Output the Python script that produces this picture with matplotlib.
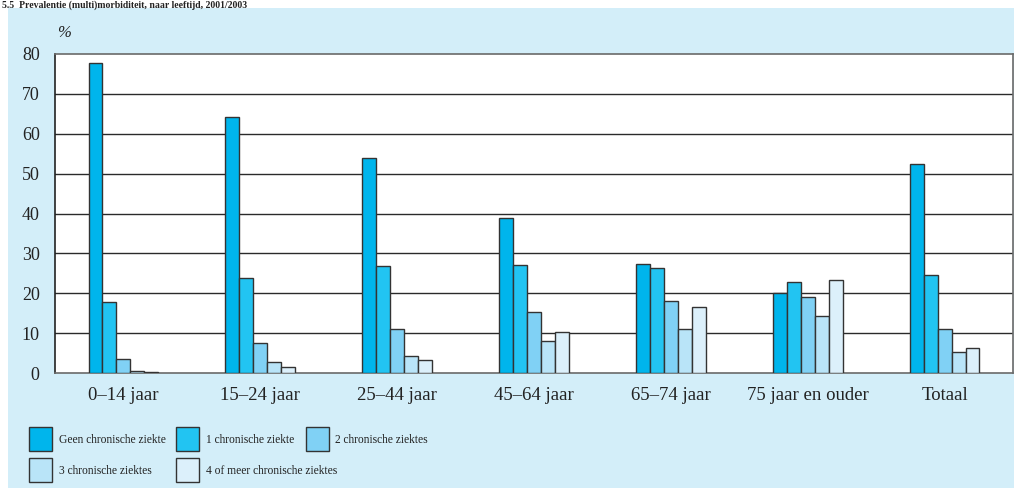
import numpy as np
import matplotlib
matplotlib.use("Agg")
import matplotlib.pyplot as plt
from matplotlib.patches import Rectangle

# Data
age_groups = ['0–14 jaar', '15–24 jaar', '25–44 jaar', '45–64 jaar',
              '65–74 jaar', '75 jaar en ouder', 'Totaal']
series_labels = ['Geen chronische ziekte', '1 chronische ziekte', '2 chronische ziektes',
                 '3 chronische ziektes', '4 of meer chronische ziektes']
geen = [77.7, 64.1, 54.0, 38.8, 27.4, 20.0, 52.4]
een = [17.7, 23.9, 26.9, 27.1, 26.4, 22.9, 24.5]
twee = [3.4, 7.4, 11.0, 15.2, 18.0, 19.0, 11.0]
drie = [0.6, 2.7, 4.3, 8.1, 11.1, 14.3, 5.3]
vier_plus = [0.2, 1.4, 3.3, 10.4, 16.6, 23.4, 6.3]
yticks = [0, 10, 20, 30, 40, 50, 60, 70, 80]

series = [geen, een, twee, drie, vier_plus]
colors = ['#00b5ec', '#22c4f2', '#80d1f5', '#b9e4f8', '#dcf0fb']
bg = '#d3eef9'
edge = '#333333'

plt.rcParams['font.family'] = ['Liberation Serif', 'DejaVu Serif']

fig = plt.figure(figsize=(10.14, 4.88), dpi=100)
fig.patch.set_facecolor('white')
W, H = 1014, 488

# light blue panel
fig.patches.append(Rectangle((8 / W, 0), 1, 1 - 8 / H, transform=fig.transFigure,
                             facecolor=bg, edgecolor='none', zorder=-10))

# title at the very top (cut off in the source, kept small here)
fig.text(0.002, 1 - 0.5 / H, '5.5  Prevalentie (multi)morbiditeit, naar leeftijd, 2001/2003',
         fontsize=7, fontweight='bold', ha='left', va='top', color='#222222')

ax = fig.add_axes([55 / W, 1 - 373 / H, (1013 - 55) / W, (373 - 54) / H])
ax.set_facecolor('white')

x = np.arange(len(age_groups))
bw = 0.102
for k, (vals, col) in enumerate(zip(series, colors)):
    ax.bar(x + (k - 2) * bw, vals, width=bw, color=col, edgecolor=edge,
           linewidth=1.0, zorder=3)

ax.set_xlim(-0.5, len(age_groups) - 0.5)
ax.set_ylim(0, 80)
ax.set_yticks(yticks)
ax.set_xticks(x)
ax.set_xticklabels(age_groups, fontsize=13.5, color='#222222')
ax.tick_params(axis='y', length=0, pad=11, labelsize=13, labelcolor='#222222')
ax.tick_params(axis='x', length=0, pad=10)
for v in yticks[1:-1]:
    ax.axhline(v, color='#2a2a2a', linewidth=1.0, zorder=1)

ax.spines['left'].set_color('#222222')
for s in ['top', 'right', 'bottom']:
    ax.spines[s].set_color('#6a6a6a')
for s in ax.spines.values():
    s.set_linewidth(1.2)

fig.text(64 / W, 1 - 37 / H, '%', fontsize=12, style='italic', ha='center',
         va='baseline', color='#222222')

# legend drawn by hand
leg_pos = [(29, 427), (176, 427), (306, 427), (29, 458), (176, 458)]
text_x = [59, 206, 335, 59, 206]
for (px, py), tx, lab, col in zip(leg_pos, text_x, series_labels, colors):
    fig.patches.append(Rectangle((px / W, 1 - (py + 24) / H), 23 / W, 24 / H,
                                 transform=fig.transFigure, facecolor=col,
                                 edgecolor=edge, linewidth=1.0))
    fig.text(tx / W, 1 - (py + 13) / H, lab, fontsize=8.3, ha='left',
             va='center', color='#222222')

fig.savefig('out.png', dpi=100, facecolor=fig.get_facecolor())
